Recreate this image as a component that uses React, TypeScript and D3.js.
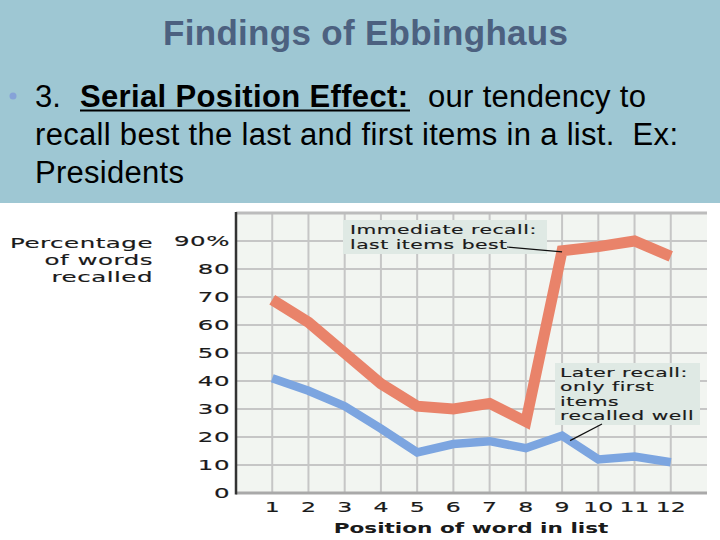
import React from "react";
import * as d3 from "d3";

const positions = [1, 2, 3, 4, 5, 6, 7, 8, 9, 10, 11, 12];
const immediateRecall = [69, 61, 50, 39, 31, 30, 32, 25.5, 86.5, 88, 90, 84.5];
const laterRecall = [41, 36.5, 31, 23, 14.5, 17.5, 18.5, 16, 20.5, 12, 13, 11];
const yTicks = [0, 10, 20, 30, 40, 50, 60, 70, 80, 90];
const yTickLabels = ["0", "10", "20", "30", "40", "50", "60", "70", "80", "90%"];
const gridY = [10, 20, 30, 40, 50, 60, 70, 80, 90];
const yTitleLines = ["Percentage", "of words", "recalled"];
const xTitle = "Position of word in list";
const noteImmediate = ["Immediate recall:", "last items best"];
const noteLater = ["Later recall:", "only first", "items", "recalled well"];
const slideTitle = "Findings of Ebbinghaus";

const CHART_FONT = "DejaVu Sans";

function W(props: {
  x: number; y: number; anchor?: string; size: number; weight?: string | number;
  sx?: number; ls?: number; fill?: string; sw?: number; children: React.ReactNode;
}) {
  const { x, y, anchor = "start", size, weight = "normal", sx = 1.75, ls = 0.3, fill = "#1a1a1a", sw = 0.15, children } = props;
  return (
    <text
      transform={`translate(${x},${y}) scale(${sx},1)`}
      textAnchor={anchor as any}
      fontSize={size}
      fontWeight={weight as any}
      letterSpacing={ls}
      fontFamily={CHART_FONT}
      fill={fill}
      stroke={fill}
      strokeWidth={sw}
    >
      {children}
    </text>
  );
}

export default function App() {
  const left = 236, right = 707, top = 213, bottom = 493;
  const x = d3.scaleLinear().domain([0, 13]).range([left, right]);
  const y = d3.scaleLinear().domain([0, 100]).range([bottom, top]);

  const line = d3
    .line<number>()
    .x((_, i) => x(positions[i]))
    .y((d) => y(d));

  const bodyFont = "Liberation Sans, Arial, sans-serif";

  return (
    <svg
      width={720}
      height={540}
      style={{ position: "absolute", left: 0, top: 0, background: "#ffffff" }}
    >
      {/* Slide header */}
      <rect x={0} y={0} width={720} height={203} fill="#9ec7d3" />
      <text x={163} y={45} fontFamily={bodyFont} fontWeight="bold" fontSize={35} fill="#4c6180" textLength={405}>
        {slideTitle}
      </text>
      <circle cx={13} cy={96} r={3.5} fill="#86a3d8" />
      <text x={35} y={107} fontFamily={bodyFont} fontSize={31} fill="#000">3.</text>
      <text x={80} y={107} fontFamily={bodyFont} fontWeight="bold" fontSize={31} fill="#000" textLength={328}>
        Serial Position Effect:
      </text>
      <line x1={80} x2={410} y1={110.5} y2={110.5} stroke="#000" strokeWidth={2} />
      <text x={428} y={107} fontFamily={bodyFont} fontSize={31} fill="#000" textLength={218}>
        our tendency to
      </text>
      <text x={35} y={145} fontFamily={bodyFont} fontSize={31} fill="#000" textLength={643} style={{ whiteSpace: "pre" }}>
        {"recall best the last and first items in a list.  Ex:"}
      </text>
      <text x={35} y={183} fontFamily={bodyFont} fontSize={31} fill="#000" textLength={149}>
        Presidents
      </text>

      {/* Plot background */}
      <rect x={left} y={top} width={right - left} height={bottom - top} fill="#f2f5f1" />
      {gridY.map((v) => (
        <line key={"gy" + v} x1={left} x2={right} y1={y(v)} y2={y(v)} stroke="#c6c6c6" strokeWidth={2} />
      ))}
      {positions.map((p) => (
        <line key={"gx" + p} x1={x(p)} x2={x(p)} y1={top} y2={bottom} stroke="#c6c6c6" strokeWidth={2} />
      ))}
      <line x1={left} x2={right} y1={top} y2={top} stroke="#bcbcbc" strokeWidth={3} />
      <line x1={left} x2={right} y1={bottom} y2={bottom} stroke="#a9a9a9" strokeWidth={3} />
      <line x1={left} x2={left} y1={top - 1} y2={bottom + 1.5} stroke="#333" strokeWidth={2.5} />

      {/* Y tick labels */}
      {yTicks.map((v, i) => (
        <W key={"yt" + v} x={230} y={y(v) + 5} anchor="end" size={14}>
          {yTickLabels[i]}
        </W>
      ))}
      {/* Y title */}
      {yTitleLines.map((t, i) => (
        <W key={"ytt" + i} x={153} y={248 + i * 17} anchor="end" size={14}>
          {t}
        </W>
      ))}
      {/* X tick labels */}
      {positions.map((p) => (
        <W key={"xt" + p} x={x(p)} y={512} anchor="middle" size={13.5} ls={0}>
          {String(p)}
        </W>
      ))}
      <W x={471} y={533} anchor="middle" size={13.5} weight="bold" sx={1.6} ls={0} sw={0}>
        {xTitle}
      </W>

      {/* Annotation boxes */}
      <rect x={343} y={220} width={204} height={34} fill="#dfe9e4" />
      {noteImmediate.map((t, i) => (
        <W key={"ni" + i} x={350} y={234 + i * 15} size={11.6}>
          {t}
        </W>
      ))}
      <rect x={555} y={363} width={145} height={62} fill="#dfe9e4" />
      {noteLater.map((t, i) => (
        <W key={"nl" + i} x={560} y={377 + i * 14.3} size={11.6}>
          {t}
        </W>
      ))}

      {/* Data lines */}
      <path d={line(immediateRecall) || ""} fill="none" stroke="#e9836a" strokeWidth={11} strokeLinejoin="miter" />
      <path d={line(laterRecall) || ""} fill="none" stroke="#7ca5e0" strokeWidth={8.5} strokeLinejoin="miter" />

      {/* Leader lines */}
      <line x1={507} y1={247} x2={x(9)} y2={y(immediateRecall[8]) + 1} stroke="#111" strokeWidth={1.2} />
      <line x1={602} y1={424} x2={x(9) + 8} y2={y(laterRecall[8]) + 5} stroke="#111" strokeWidth={1.2} />
    </svg>
  );
}
